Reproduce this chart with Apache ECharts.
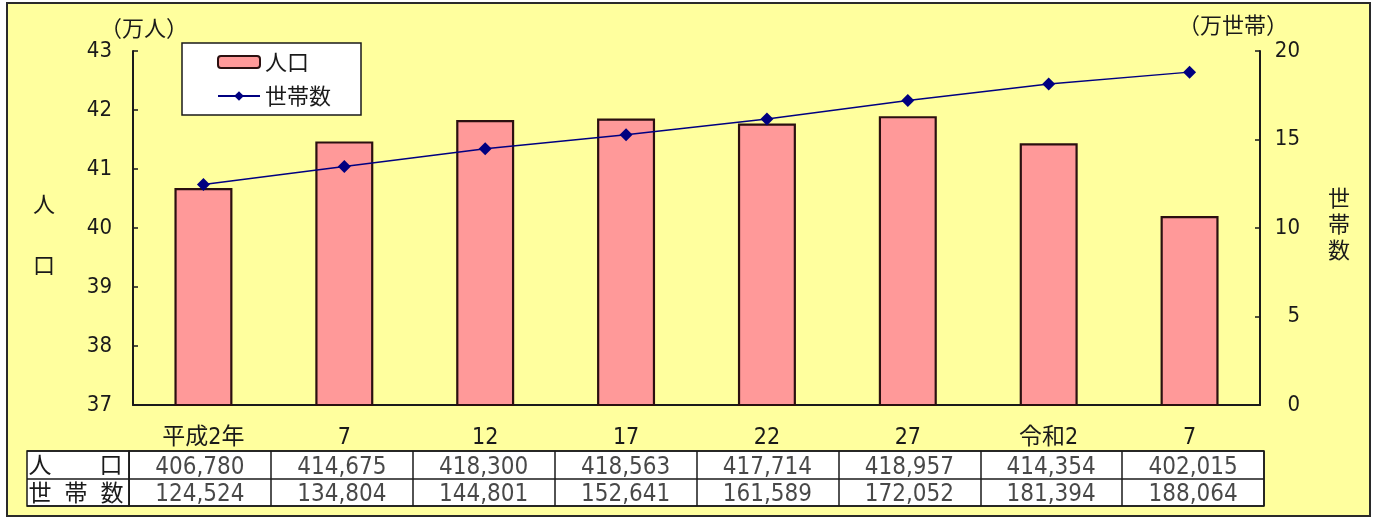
<!DOCTYPE html>
<html>
<head>
<meta charset="utf-8">
<script src="https://cdn.jsdelivr.net/npm/echarts@6/dist/echarts.min.js"></script>
<style>
  html, body { margin: 0; padding: 0; background: #ffffff; }
  #frame { position: absolute; left: 6px; top: 2px; width: 1365px; height: 515px; box-sizing: border-box;
           border: 2px solid #2a2a2a; background: #FFFF9E; }
  #chart { position: absolute; left: 0; top: 0; width: 1377px; height: 520px; }
</style>
</head>
<body>
<div id="frame"></div>
<div id="chart"></div>
<script>
// ---- data ----
const categories = ['平成2年', '7', '12', '17', '22', '27', '令和2', '7'];
const population = [406780, 414675, 418300, 418563, 417714, 418957, 414354, 402015];
const households = [124524, 134804, 144801, 152641, 161589, 172052, 181394, 188064];
const seriesNames = ['人口', '世帯数'];
const rowNames = ['人口', '世帯数'];
const leftTicks = { min: 37, max: 43, interval: 1 };
const rightTicks = { min: 0, max: 20, interval: 5 };

const NUM_FONT = '"DejaVu Sans Condensed", "Noto Sans CJK JP", sans-serif';
const JP_FONT = '"Noto Sans CJK JP", sans-serif';
const INK = '#1a1a1a';

const popMan = population.map(v => v / 10000);
const hhMan = households.map(v => v / 10000);
const fmt = v => String(v).replace(/\B(?=(\d{3})+(?!\d))/g, ',');

const tablePop = population.map((v, i) => ({ value: [i, 1.5], raw: v }));
const tableHh = households.map((v, i) => ({ value: [i, 0.5], raw: v }));

const chart = echarts.init(document.getElementById('chart'), null, { renderer: 'canvas' });

const option = {
  backgroundColor: 'transparent',
  animation: false,
  textStyle: { fontFamily: NUM_FONT, color: INK },
  legend: {
    left: 182, top: 43, orient: 'vertical',
    backgroundColor: '#ffffff', borderColor: INK, borderWidth: 1.5,
    padding: [8, 30, 8, 35], itemGap: 12,
    itemWidth: 42, itemHeight: 12,
    textStyle: { fontFamily: JP_FONT, fontSize: 22, color: INK },
    data: seriesNames
  },
  grid: [
    { left: 133, right: 117, top: 51, bottom: 115 },
    { left: 129, right: 113, top: 451, height: 55, show: true, backgroundColor: '#ffffff', borderColor: INK, borderWidth: 1.5 },
    { left: 27, width: 102, top: 451, height: 55, show: true, backgroundColor: '#ffffff', borderColor: INK, borderWidth: 1.5 }
  ],
  xAxis: [
    {
      gridIndex: 0, type: 'category', data: categories,
      axisLine: { lineStyle: { color: INK, width: 2 } },
      axisTick: { inside: true, length: 5, lineStyle: { color: INK, width: 1.5 } },
      axisLabel: { margin: 22, fontSize: 23, color: INK, fontFamily: NUM_FONT, interval: 0 }
    },
    {
      gridIndex: 1, type: 'category', data: categories,
      axisLine: { show: false }, axisTick: { show: false }, axisLabel: { show: false },
      splitLine: { show: true, interval: 0, lineStyle: { color: INK, width: 1.5 } }
    },
    { gridIndex: 2, type: 'value', min: 0, max: 1, show: false }
  ],
  yAxis: [
    {
      gridIndex: 0, type: 'value', min: leftTicks.min, max: leftTicks.max, interval: leftTicks.interval,
      axisLine: { show: true, lineStyle: { color: INK, width: 2 } },
      axisTick: { show: true, inside: true, length: 5, lineStyle: { color: INK, width: 1.5 } },
      axisLabel: { margin: 21, fontSize: 22, color: INK, fontFamily: NUM_FONT },
      splitLine: { show: false }
    },
    {
      gridIndex: 0, type: 'value', position: 'right', min: rightTicks.min, max: rightTicks.max, interval: rightTicks.interval,
      axisLine: { show: true, lineStyle: { color: INK, width: 2 } },
      axisTick: { show: true, inside: true, length: 5, lineStyle: { color: INK, width: 1.5 } },
      axisLabel: { margin: 40, align: 'right', fontSize: 22, color: INK, fontFamily: NUM_FONT },
      splitLine: { show: false }
    },
    {
      gridIndex: 1, type: 'value', min: 0, max: 2, interval: 1,
      axisLine: { show: false }, axisTick: { show: false }, axisLabel: { show: false },
      splitLine: { show: true, lineStyle: { color: INK, width: 1.5 } }
    },
    {
      gridIndex: 2, type: 'category', data: rowNames, inverse: true,
      axisLine: { show: false }, axisTick: { show: false },
      splitLine: { show: true, interval: 0, lineStyle: { color: INK, width: 1.5 } },
      axisLabel: {
        inside: true, margin: 1, color: INK,
        formatter: function (v) {
          const chars = Array.from(v);
          const gap = chars.length === 2 ? '{g2|}' : '{g3|}';
          return chars.map(c => '{c|' + c + '}').join(gap);
        },
        rich: {
          c: { width: 24, align: 'center', fontSize: 23, fontFamily: JP_FONT, color: INK },
          g2: { width: 47 },
          g3: { width: 12 }
        }
      }
    }
  ],
  series: [
    {
      name: seriesNames[0], type: 'bar', xAxisIndex: 0, yAxisIndex: 0,
      data: popMan, barWidth: 58,
      itemStyle: { color: '#FF9999', borderColor: '#2b1010', borderWidth: 2.2 }
    },
    {
      name: seriesNames[1], type: 'line', xAxisIndex: 0, yAxisIndex: 1,
      data: hhMan, symbol: 'diamond', symbolSize: 13,
      lineStyle: { color: '#000080', width: 1.5 },
      itemStyle: { color: '#000080' }
    },
    {
      type: 'scatter', xAxisIndex: 1, yAxisIndex: 2, data: tablePop,
      symbolSize: 1, itemStyle: { color: 'rgba(0,0,0,0)' }, silent: true,
      label: { show: true, position: 'inside', offset: [0, 3], fontSize: 24, fontFamily: NUM_FONT, color: INK,
               formatter: p => fmt(p.data.raw) }
    },
    {
      type: 'scatter', xAxisIndex: 1, yAxisIndex: 2, data: tableHh,
      symbolSize: 1, itemStyle: { color: 'rgba(0,0,0,0)' }, silent: true,
      label: { show: true, position: 'inside', offset: [0, 3], fontSize: 24, fontFamily: NUM_FONT, color: INK,
               formatter: p => fmt(p.data.raw) }
    }
  ],
  graphic: [
    { type: 'text', x: 144, y: 28, style: { text: '（万人）', fontSize: 22, fontFamily: JP_FONT, fill: INK, align: 'center', verticalAlign: 'middle' } },
    { type: 'text', x: 1233, y: 25, style: { text: '（万世帯）', fontSize: 22, fontFamily: JP_FONT, fill: INK, align: 'center', verticalAlign: 'middle' } },
    { type: 'text', x: 44, y: 204, style: { text: '人', fontSize: 22, fontFamily: JP_FONT, fill: INK, align: 'center', verticalAlign: 'middle' } },
    { type: 'text', x: 44, y: 265, style: { text: '口', fontSize: 22, fontFamily: JP_FONT, fill: INK, align: 'center', verticalAlign: 'middle' } },
    { type: 'text', x: 1339, y: 224, style: { text: '世\n帯\n数', fontSize: 22, lineHeight: 26, fontFamily: JP_FONT, fill: INK, align: 'center', verticalAlign: 'middle' } }
  ]
};
chart.setOption(option);
</script>
</body>
</html>
